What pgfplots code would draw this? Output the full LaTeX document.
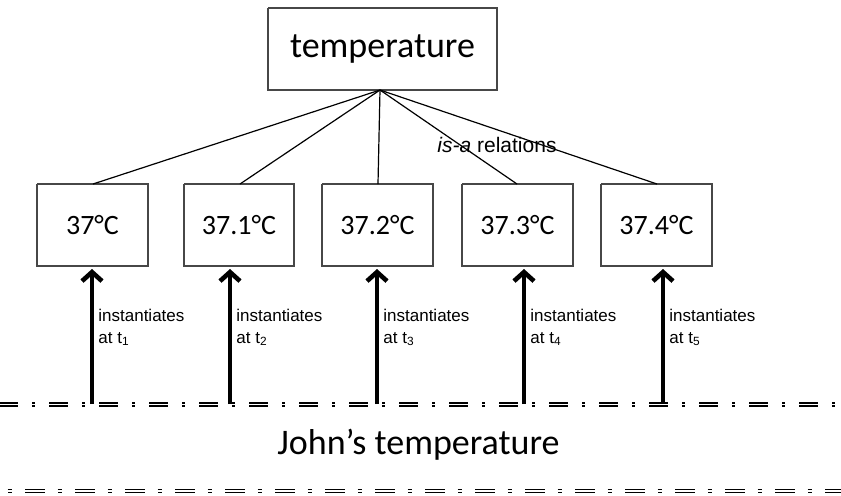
\documentclass[border=0pt]{standalone}
\usepackage{fontspec}
\setmainfont{Carlito}
\newfontfamily\arial{Liberation Sans}
\usepackage{pgfplots}
\pgfplotsset{compat=1.18}
\usetikzlibrary{arrows.meta}
\tikzset{
  boxst/.style={draw=black!72,line width=1pt,line join=miter},
  thinl/.style={draw=black,line width=0.6pt},
  arr/.style={draw=black,line width=2.3pt,-{Straight Barb[length=4.5pt,width=10pt]}},
  dd/.style={draw=black,line width=0.75pt,double=white,double distance=0.9pt},
  lab/.style={font=\arial\fontsize{8.5}{10}\selectfont,anchor=base west,inner sep=0pt}}
\begin{document}
\begin{tikzpicture}
\begin{axis}[name=ax,width=420.5pt,height=247.5pt,scale only axis,
  xmin=0,xmax=841,ymin=0,ymax=495,y dir=reverse,axis lines=none,ticks=none,clip=false]
% main box
\addplot[boxst] coordinates {(268,8)(497,8)(497,90)(268,90)(268,8)};
% value boxes
\addplot[boxst] coordinates {(37,184)(148,184)(148,266)(37,266)(37,184)};
\addplot[boxst] coordinates {(184,184)(294,184)(294,266)(184,266)(184,184)};
\addplot[boxst] coordinates {(322,184)(433,184)(433,266)(322,266)(322,184)};
\addplot[boxst] coordinates {(462,184)(573,184)(573,266)(462,266)(462,184)};
\addplot[boxst] coordinates {(601,184)(712,184)(712,266)(601,266)(601,184)};
% is-a lines
\addplot[thinl] coordinates {(380,90)(93,184)};
\addplot[thinl] coordinates {(380,90)(240,184)};
\addplot[thinl] coordinates {(380,90)(378,184)};
\addplot[thinl] coordinates {(380,90)(517,184)};
\addplot[thinl] coordinates {(380,90)(657,184)};
% dash-dot double lines
\addplot[dd,dash pattern=on 9.5pt off 7pt on 1.5pt off 7pt,dash phase=0.5pt] coordinates {(0,404.5)(841,404.5)};
\addplot[dd,dash pattern=on 9.75pt off 6.5pt on 2pt off 6.75pt,dash phase=12.5pt] coordinates {(0,491)(841,491)};
% arrows
\addplot[arr] coordinates {(92,404)(92,269)};
\addplot[arr] coordinates {(230,404)(230,269)};
\addplot[arr] coordinates {(377,404)(377,269)};
\addplot[arr] coordinates {(524,404)(524,269)};
\addplot[arr] coordinates {(663,404)(663,269)};
% texts
\node[font=\fontsize{18}{20}\selectfont] at (axis cs:382.5,49) {temperature};
\node[font=\fontsize{14}{16}\selectfont] at (axis cs:92.5,225) {37°C};
\node[font=\fontsize{14}{16}\selectfont] at (axis cs:239,225) {37.1°C};
\node[font=\fontsize{14}{16}\selectfont] at (axis cs:377.5,225) {37.2°C};
\node[font=\fontsize{14}{16}\selectfont] at (axis cs:517.5,225) {37.3°C};
\node[font=\fontsize{14}{16}\selectfont] at (axis cs:656.5,225) {37.4°C};
\node[font=\arial\fontsize{10.5}{12}\selectfont] at (axis cs:497,145) {\textit{is-a} relations};
\node[font=\fontsize{18}{20}\selectfont] at (axis cs:418.5,445) {John’s temperature};
\node[lab] at (axis cs:98,321) {instantiates};
\node[lab] at (axis cs:98,343) {at t\textsubscript{1}};
\node[lab] at (axis cs:236,321) {instantiates};
\node[lab] at (axis cs:236,343) {at t\textsubscript{2}};
\node[lab] at (axis cs:383,321) {instantiates};
\node[lab] at (axis cs:383,343) {at t\textsubscript{3}};
\node[lab] at (axis cs:530,321) {instantiates};
\node[lab] at (axis cs:530,343) {at t\textsubscript{4}};
\node[lab] at (axis cs:669,321) {instantiates};
\node[lab] at (axis cs:669,343) {at t\textsubscript{5}};
\end{axis}
\pgfresetboundingbox
\useasboundingbox (ax.south west) rectangle (ax.north east);
\end{tikzpicture}
\end{document}
